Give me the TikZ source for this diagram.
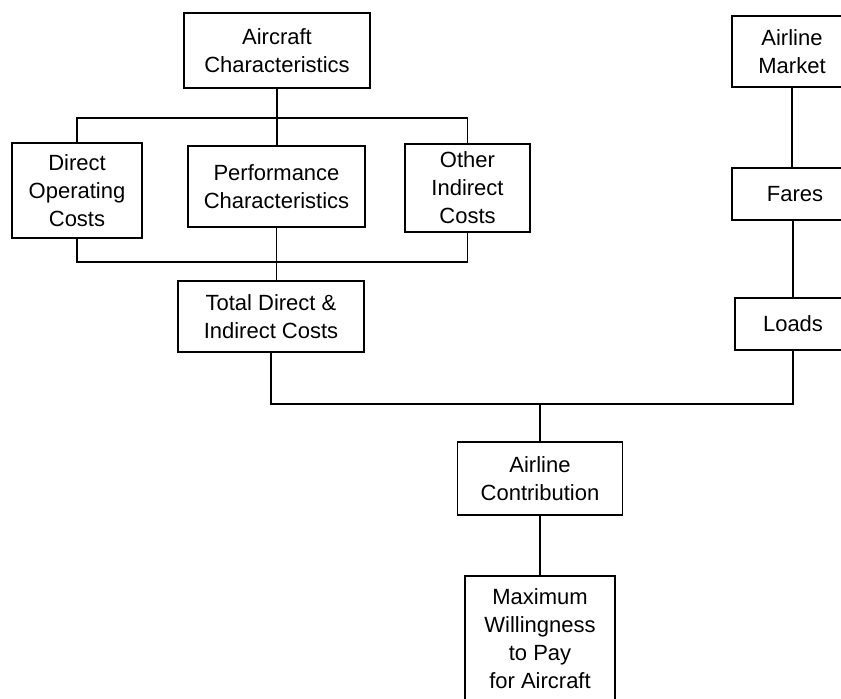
\documentclass[tikz,border=0pt]{standalone}
\usepackage{fontspec}
\setmainfont{Liberation Sans}
\begin{document}
\begin{tikzpicture}[x=1pt,y=-1pt,
  box/.style={draw, line width=1.3pt, inner sep=0pt, align=center,
    font=\fontsize{22}{28}\selectfont},
  conn/.style={line width=1.3pt}]
\useasboundingbox (0,0) rectangle (841,699);
\fill[white] (0,0) rectangle (841,699);
\node[box, minimum width=186, minimum height=75] (ac) at (277,50.5) {Aircraft\\Characteristics};
\node[box, minimum width=130, minimum height=95] (doc) at (77,190.5) {Direct\\Operating\\Costs};
\node[box, minimum width=177, minimum height=81] (pc) at (276.5,186.5) {Performance\\Characteristics};
\node[box, minimum width=125, minimum height=88] (oic) at (467.5,188) {Other\\Indirect\\Costs};
\node[box, minimum width=186, minimum height=71] (tdic) at (271,316.5) {Total Direct \&\\Indirect Costs};
\node[box, minimum width=120, minimum height=71] (am) at (792,51.5) {Airline\\Market};
\node[box, minimum width=126, minimum height=52] (fares) at (795,194) {Fares};
\node[box, minimum width=116, minimum height=52] (loads) at (793,324) {Loads};
\node[box, minimum width=165, minimum height=73] (contrib) at (540,478.5) {Airline\\Contribution};
\node[box, minimum width=150, minimum height=125] (mwp) at (540,638.5) {Maximum\\Willingness\\to Pay\\for Aircraft};
\coordinate (bt) at (277,118);
\coordinate (bb) at (277,262);
\coordinate (mid) at (540,404);
\draw[conn] (ac.south) -- (pc.north -| ac.south);
\draw[conn] (doc.north) |- (bt) -| (oic.north);
\draw[conn] (doc.south) |- (bb) -| (oic.south);
\draw[conn] (pc.south) -- (pc.south |- tdic.north);
\draw[conn] (tdic.south) |- (mid) -| (loads.south);
\draw[conn] (mid) -- (contrib.north);
\draw[conn] (contrib.south) -- (mwp.north);
\draw[conn] (am.south) -- (am.south |- fares.north);
\draw[conn] (loads.north) -- (loads.north |- fares.south);
\end{tikzpicture}
\end{document}
